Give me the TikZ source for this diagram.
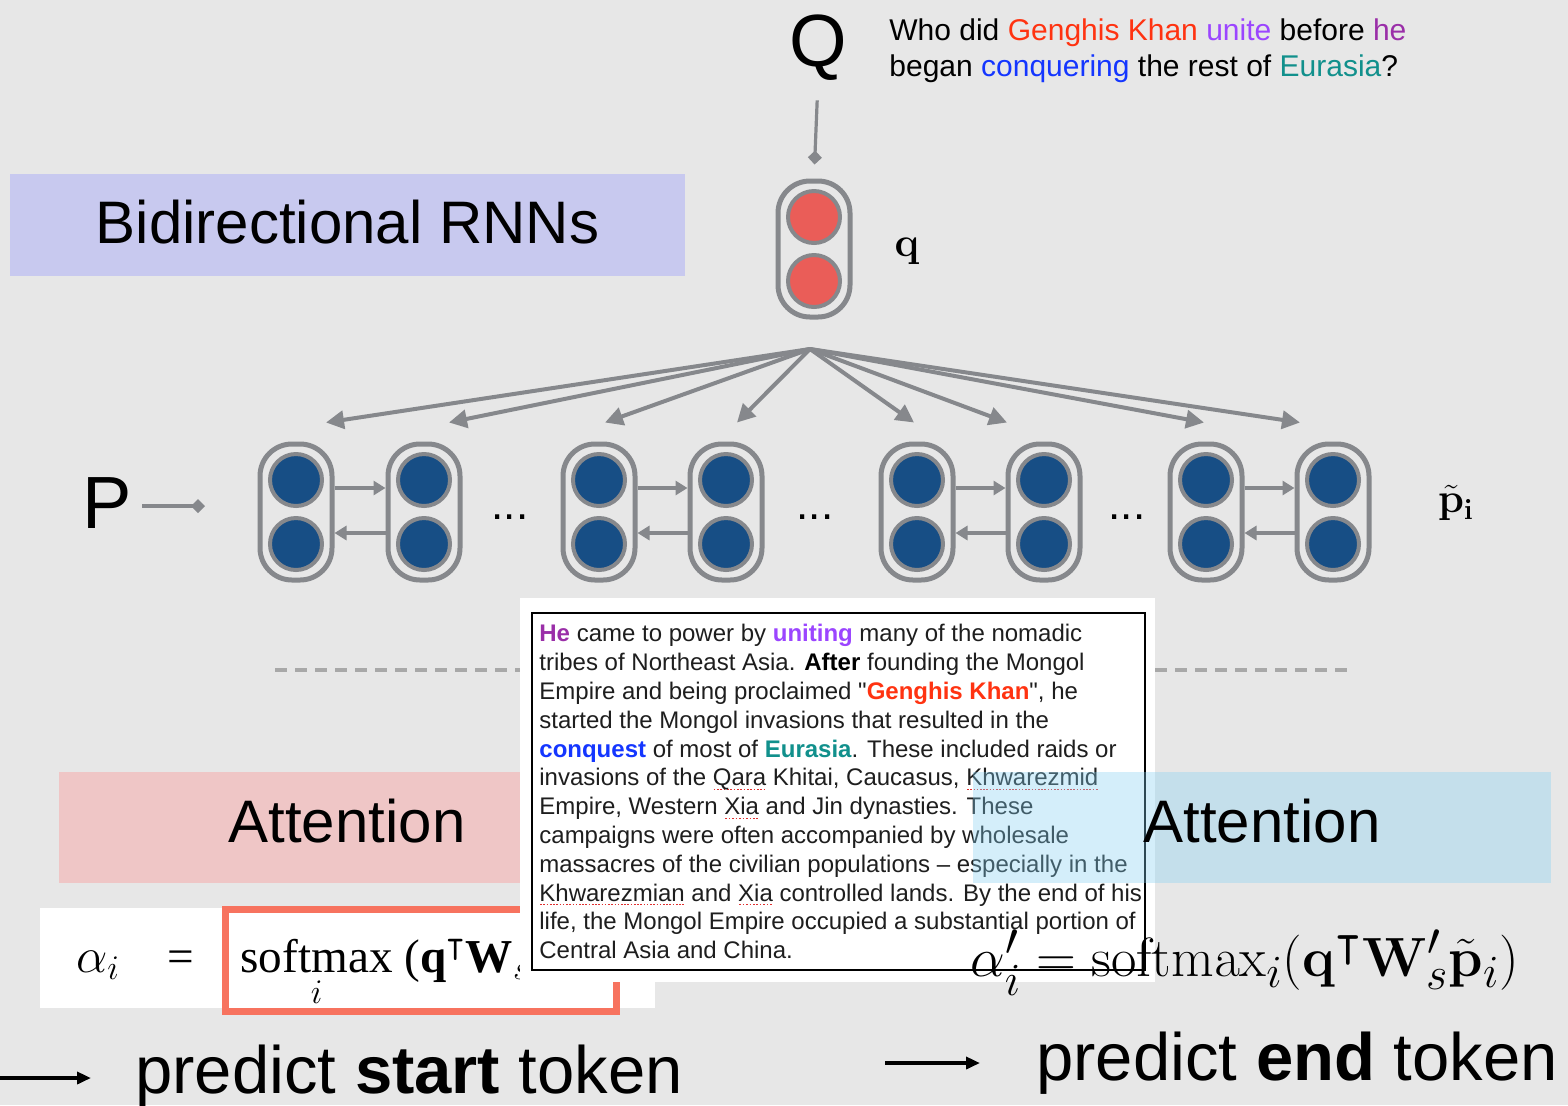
\documentclass[tikz,border=0pt]{standalone}
\usepackage{amsmath}
\usepackage{amssymb}
\usepackage[no-math]{fontspec}
\setmainfont{Liberation Sans}
\newfontfamily\timesf{Liberation Serif}
\newfontfamily\passagef[Ligatures=TeXOff]{Liberation Sans}
\usetikzlibrary{arrows.meta}
\definecolor{bg}{HTML}{E7E7E7}
\definecolor{lav}{HTML}{C8C9EF}
\definecolor{pinkbox}{HTML}{EFC6C6}
\definecolor{skybox}{HTML}{84D1F3}
\definecolor{cellgrey}{HTML}{86888C}
\definecolor{unitblue}{HTML}{174E85}
\definecolor{unitred}{HTML}{EA5D58}
\definecolor{dashgrey}{HTML}{A8A8A8}
\definecolor{salmon}{HTML}{F7735F}
\definecolor{txtgrey}{HTML}{1E1E1E}
\definecolor{spellred}{HTML}{E03030}
\definecolor{gkred}{HTML}{FF3311}
\definecolor{univiolet}{HTML}{9B45FF}
\definecolor{hepurple}{HTML}{9A2EA8}
\definecolor{conqblue}{HTML}{1436FF}
\definecolor{eurteal}{HTML}{11908C}
\newcommand\spchk[1]{\setbox0\hbox{#1}\rlap{\color{spellred}\raisebox{-2.2pt}{\hbox to \wd0{\xleaders\hbox to 1.6pt{\hss\vrule width 0.8pt height 0.7pt\hss}\hfill}}}\box0\relax}

\begin{document}
\begin{tikzpicture}[x=0.5pt,y=-0.5pt,
  every node/.style={inner sep=0pt},
  cell/.style={draw=cellgrey,line width=2.5pt,rounded corners=16pt,minimum width=36pt,minimum height=68pt},
  unit/.style={circle,draw=cellgrey,line width=2pt,fill=unitblue,minimum size=26pt},
  qunit/.style={unit,fill=unitred},
  fan/.style={draw=cellgrey,line width=2pt,-{Triangle[length=9pt,width=9pt]}},
  rarrow/.style={draw=cellgrey,line width=1.8pt,-{Triangle[length=6pt,width=7pt]}},
  diamarrow/.style={draw=cellgrey,line width=1.6pt,-{Diamond[length=7pt,width=7pt]}},
  blackarrow/.style={draw=black,line width=2pt,-{Triangle[length=7pt,width=6pt]}},
  bigsans/.style={font=\fontsize{30}{36}\selectfont},
  attbox/.style={bigsans,text depth=7pt,minimum width=288pt,minimum height=55.5pt}]
\fill[bg](0,0) rectangle (1568,1105);
\useasboundingbox (0,0) rectangle (1568,1105);

\node[bigsans,fill=lav,text depth=3pt,minimum width=337.5pt,minimum height=51pt] (birnn) at (347.5,225) {Bidirectional RNNs};

% question
\node[anchor=base,font=\fontsize{37}{40}\selectfont] (Q) at (818,66) {Q};
\node[anchor=north west,align=left,font=\fontsize{15}{18}\selectfont] (question) at (889,18)
  {Who did \textcolor{gkred}{Genghis Khan} \textcolor{univiolet}{unite} before \textcolor{hepurple}{he}\\
   began \textcolor{conqblue}{conquering} the rest of \textcolor{eurteal}{Eurasia}?};
\node[cell] (qcell) at (814,249) {};
\node[qunit] (qt) at ([yshift=16pt]qcell.center) {};
\node[qunit] (qb) at ([yshift=-16pt]qcell.center) {};
\node[font=\fontsize{20}{24}\selectfont] (qlab) at (907,251) {$\mathbf{q}$};
\draw[diamarrow,shorten <=10pt,shorten >=7pt] (Q.south) -- (qcell.north);

% passage encoder
\node[anchor=base,font=\fontsize{37}{40}\selectfont] (P) at (107,528) {P};
\coordinate (pin) at (205,506);
\draw[diamarrow,shorten <=5pt] (P.east |- pin) -- (pin);
\foreach \n/\x in {c1/296,c2/424,c3/599,c4/726,c5/917,c6/1044,c7/1206,c8/1333}{
  \node[cell] (\n) at (\x,512) {};
  \node[unit] (\n-t) at ([yshift=16pt]\n.center) {};
  \node[unit] (\n-b) at ([yshift=-16pt]\n.center) {};
}
\foreach \a/\b in {c1/c2,c3/c4,c5/c6,c7/c8}{
  \draw[rarrow] ([yshift=12pt]\a.east) -- ([yshift=12pt]\b.west);
  \draw[rarrow] ([yshift=-10.5pt]\b.west) -- ([yshift=-10.5pt]\a.east);
}
\foreach \x in {510,815,1127}
  \node[anchor=base,font=\fontsize{22}{26}\selectfont] at (\x,519) {...};
\node[font=\fontsize{22}{26}\selectfont] (ptilde) at (1456,503) {$\tilde{\mathbf{p}}_{\mathbf{i}}$};

% attention from q
\coordinate (hub) at (810,349);
\foreach \c/\dx in {c1/15,c2/12.5,c3/3,c4/5.5,c5/-1.5,c6/-18.5,c7/-1,c8/-16.5}
  \draw[fan] (hub) -- ([shift={(\dx pt,9.5pt)}]\c.north);

\draw[dashgrey,line width=2pt,dash pattern=on 6pt off 4pt] (275,670) -- (1352,670);

% left attention
\node[attbox,fill=pinkbox] (attL) at (347,827.5) {Attention};
\fill[white] (40,908) rectangle (655,1008);
\node[anchor=base west,font=\timesf\fontsize{23.6}{28}\selectfont] (alphaL) at (76,972)
  {$\alpha_i$\hspace{24pt}=\hspace{23pt}$\mathop{\hbox{softmax}}\limits_{i}$\hspace{6pt}(\textbf{q}$^{\intercal}$\textbf{W}$_s\tilde{\mathbf{p}}_i$)};
\draw[salmon,line width=3.5pt] (225.5,909.5) rectangle (616.5,1011.5);

% passage
\fill[white] (520,598) rectangle (1155,982);
\draw[line width=0.8pt] (532,613) rectangle (1145,970);
\node[anchor=north west,align=left,text=txtgrey,font=\passagef\fontsize{12}{14.4}\selectfont] (passage) at (539,624)
  {\textbf{\textcolor{hepurple}{He}} came to power by \textbf{\textcolor{univiolet}{uniting}} many of the nomadic\\
   tribes of Northeast Asia. \textbf{\textcolor{black}{After}} founding the Mongol\\
   Empire and being proclaimed "\textbf{\textcolor{gkred}{Genghis Khan}}", he\\
   started the Mongol invasions that resulted in the\\
   \textbf{\textcolor{conqblue}{conquest}} of most of \textbf{\textcolor{eurteal}{Eurasia}}. These included raids or\\
   invasions of the \spchk{Qara} Khitai, Caucasus, \spchk{Khwarezmid}\\
   Empire, Western \spchk{Xia} and Jin dynasties. These\\
   campaigns were often accompanied by wholesale\\
   massacres of the civilian populations – especially in the\\
   \spchk{Khwarezmian} and \spchk{Xia} controlled lands. By the end of his\\
   life, the Mongol Empire occupied a substantial portion of\\
   Central Asia and China.};

% right attention
\node[attbox,fill=skybox,fill opacity=0.35,text opacity=1,minimum width=289pt] (attR) at (1262,827.5) {Attention};
\node[anchor=base west,font=\fontsize{24.88}{30}\selectfont] (alphaR) at (970,976)
  {\scalebox{1.11}{$\alpha'_i = \mathrm{softmax}_i(\mathbf{q}^{\intercal}\mathbf{W}'_s\tilde{\mathbf{p}}_i)$}};

% outputs
\node[anchor=base west,font=\fontsize{33.5}{40}\selectfont] (startlab) at (135,1093) {predict \textbf{start} token};
\coordinate (sa) at (0,1078);
\draw[blackarrow,shorten >=22pt] (sa) -- (sa -| startlab.west);
\node[anchor=base west,font=\fontsize{33.5}{40}\selectfont] (endlab) at (1036,1080) {predict \textbf{end} token};
\coordinate (ea) at (885,1063);
\draw[blackarrow,shorten >=28pt] (ea) -- (ea -| endlab.west);
\end{tikzpicture}
\end{document}
